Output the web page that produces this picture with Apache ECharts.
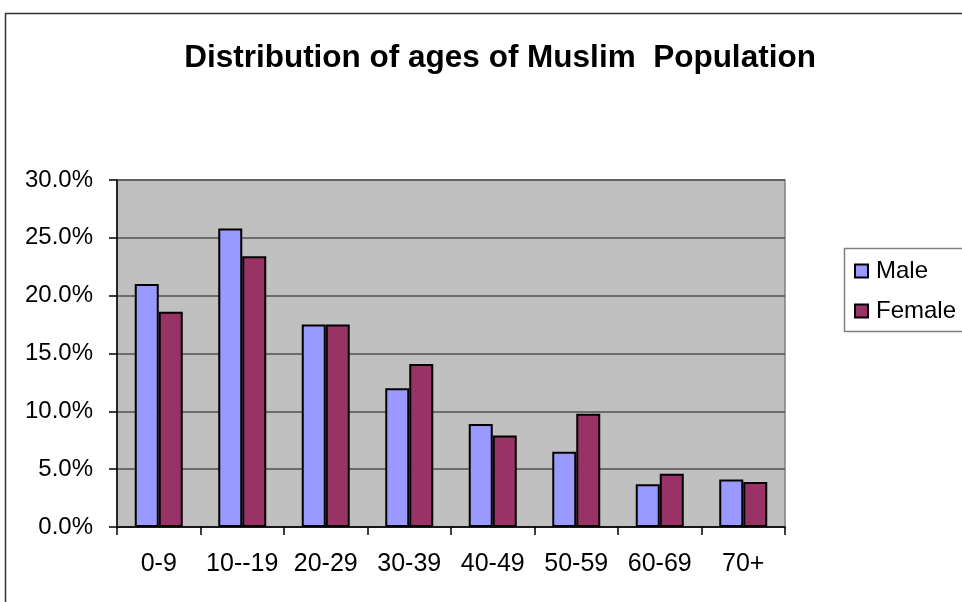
<!DOCTYPE html>
<html>
<head>
<meta charset="utf-8">
<script src="https://cdn.jsdelivr.net/npm/echarts@6/dist/echarts.min.js"></script>
<style>
  html, body { margin: 0; padding: 0; background: #ffffff; }
  #chart { width: 962px; height: 602px; }
</style>
</head>
<body>
<div id="chart"></div>
<script>
// Age groups and share of population (%) by sex
const ageGroups = ['0-9', '10--19', '20-29', '30-39', '40-49', '50-59', '60-69', '70+'];
const maleShare = [21.0, 25.8, 17.5, 12.0, 8.9, 6.5, 3.7, 4.1];
const femaleShare = [18.6, 23.4, 17.5, 14.1, 7.9, 9.8, 4.6, 3.9];
const yTicks = [0, 5, 10, 15, 20, 25, 30];

const chart = echarts.init(document.getElementById('chart'));
const fontFamily = '"Liberation Sans", Arial, sans-serif';

chart.setOption({
  animation: false,
  backgroundColor: '#ffffff',
  textStyle: { fontFamily: fontFamily },
  title: {
    text: 'Distribution of ages of Muslim  Population',
    left: 495,
    textAlign: 'center',
    top: 37,
    textStyle: { fontSize: 31.5, fontWeight: 'bold', color: '#000000', fontFamily: fontFamily }
  },
  graphic: [
    {
      type: 'rect',
      shape: { x: 5.5, y: 13.5, width: 1000, height: 700 },
      style: { fill: 'none', stroke: '#333333', lineWidth: 1.5 },
      silent: true
    },
    {
      type: 'rect',
      shape: { x: 844.5, y: 248.5, width: 200, height: 83 },
      style: { fill: '#ffffff', stroke: '#808080', lineWidth: 1.5 },
      z: 0,
      silent: true
    }
  ],
  legend: {
    orient: 'vertical',
    left: 849,
    top: 254,
    itemWidth: 13,
    itemHeight: 13,
    itemGap: 16,
    icon: 'rect',
    z: 5,
    itemStyle: { borderColor: '#000000', borderWidth: 2 },
    textStyle: { fontSize: 24, color: '#000000', padding: [0, 0, 0, 3], fontFamily: fontFamily },
    data: ['Male', 'Female']
  },
  grid: {
    left: 117,
    right: 177,
    top: 180,
    bottom: 75,
    show: true,
    backgroundColor: '#c0c0c0',
    borderColor: '#808080',
    borderWidth: 1.5
  },
  xAxis: {
    type: 'category',
    data: ageGroups,
    boundaryGap: true,
    axisLine: { show: true, lineStyle: { color: '#000000', width: 1.5 } },
    axisTick: { show: true, length: 8, inside: false, alignWithLabel: false, lineStyle: { color: '#000000', width: 1.5 } },
    axisLabel: { interval: 0, fontSize: 25, color: '#000000', margin: 25, fontFamily: fontFamily }
  },
  yAxis: {
    type: 'value',
    min: yTicks[0],
    max: yTicks[yTicks.length - 1],
    interval: 5,
    axisLine: { show: true, lineStyle: { color: '#000000', width: 1.5 } },
    axisTick: { show: true, length: 8, lineStyle: { color: '#000000', width: 1.5 } },
    splitLine: { show: true, lineStyle: { color: '#505050', width: 1.5 } },
    axisLabel: {
      fontSize: 24,
      color: '#000000',
      margin: 24,
      fontFamily: fontFamily,
      formatter: function (v) { return v.toFixed(1) + '%'; }
    }
  },
  series: [
    {
      name: 'Male',
      type: 'bar',
      data: maleShare,
      barWidth: 24,
      barGap: '0%',
      itemStyle: { color: '#9999ff', borderColor: '#000000', borderWidth: 2 }
    },
    {
      name: 'Female',
      type: 'bar',
      data: femaleShare,
      barWidth: 24,
      barGap: '0%',
      itemStyle: { color: '#993366', borderColor: '#000000', borderWidth: 2 }
    }
  ]
});
</script>
</body>
</html>
